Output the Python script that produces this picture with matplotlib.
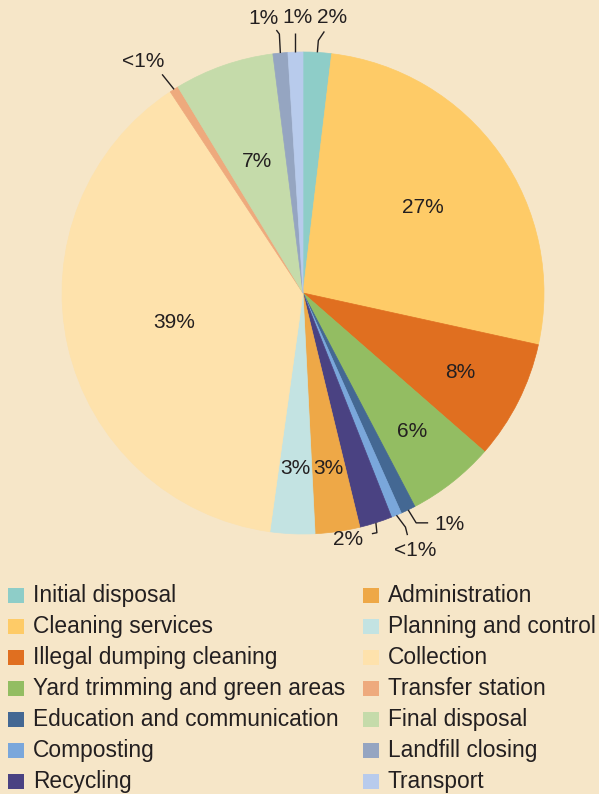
import numpy as np
import matplotlib
matplotlib.use("Agg")
import matplotlib.pyplot as plt
from matplotlib.patches import Rectangle

# Share of municipal solid waste management costs by activity (%)
categories = [
    "Initial disposal", "Cleaning services", "Illegal dumping cleaning",
    "Yard trimming and green areas", "Education and communication",
    "Composting", "Recycling", "Administration", "Planning and control",
    "Collection", "Transfer station", "Final disposal", "Landfill closing",
    "Transport",
]
shares = [1.9, 26.6, 8.0, 5.9, 1.0, 0.7, 2.2, 3.0, 3.0, 38.6, 0.6, 6.7, 1.0, 1.0]
colors = [
    "#8ecdc8", "#fecb67", "#e06f20", "#93bd62", "#446893", "#7aa7db",
    "#4a4282", "#eea847", "#c3e3e2", "#fee2ac", "#eeaa7d", "#c5dbaa",
    "#95a5c1", "#b8cbec",
]

BG = "#f6e6c8"
INK = "#231f20"
FONT = "Liberation Sans"
FS_PIE = 15
FS_LEG = 16.4

W, H = 599, 794
CX, CY, R = 303, H - 293, 241

fig = plt.figure(figsize=(W / 100, H / 100), dpi=100)
fig.patch.set_facecolor(BG)
ax = fig.add_axes([0, 0, 1, 1])
ax.set_facecolor(BG)

wedges, _ = ax.pie(shares, colors=colors, startangle=90, counterclock=False,
                   center=(CX, CY), radius=R,
                   wedgeprops=dict(linewidth=0.5))
for w in wedges:
    w.set_edgecolor(w.get_facecolor())

ax.set_xlim(0, W)
ax.set_ylim(0, H)
ax.set_aspect("equal")
ax.axis("off")


def label_text(v):
    return "<1%" if v < 1 else f"{round(v)}%"


def mid_angle(w):
    return np.deg2rad((w.theta1 + w.theta2) / 2)


# Labels placed inside the wedge: radius as a fraction of the pie radius
inside = {1: 0.61, 2: 0.73, 3: 0.73, 7: 0.735, 8: 0.727, 9: 0.55, 11: 0.58}
for i, rf in inside.items():
    a = mid_angle(wedges[i])
    ax.text(CX + rf * R * np.cos(a), CY + rf * R * np.sin(a), label_text(shares[i]),
            ha="center", va="center", fontsize=FS_PIE, color=INK, family=FONT)

# Labels outside with leader lines: offsets (px) from the wedge's rim point
outside = {
    0: ([(1, 12), (7, 21)], (15, 35)),
    13: ([(0, 19)], (2, 35)),
    12: ([(-1, 19), (-4, 23)], (-17, 35)),
    10: ([(-12, 15)], (-31, 28)),
    4: ([(8, -13), (20, -13)], (41, -15)),
    5: ([(9, -12), (11, -20)], (19, -35)),
    6: ([(1, -10), (-4, -11)], (-28, -17)),
}
for i, (pts, (tx, ty)) in outside.items():
    a = mid_angle(wedges[i])
    ex, ey = CX + R * np.cos(a), CY + R * np.sin(a)
    xs = [ex] + [ex + dx for dx, dy in pts]
    ys = [ey] + [ey + dy for dx, dy in pts]
    ax.plot(xs, ys, color=INK, lw=1.0, solid_capstyle="butt")
    ax.text(ex + tx, ey + ty, label_text(shares[i]), ha="center", va="center",
            fontsize=FS_PIE, color=INK, family=FONT)

# Two-column legend below the pie
rows = 7
col_x = [8, 363]
row_y0, row_step = H - 595, 31
for k, (name, c) in enumerate(zip(categories, colors)):
    col, row = divmod(k, rows)
    yc = row_y0 - row * row_step
    ax.add_patch(Rectangle((col_x[col], yc - 7.5), 16, 15, facecolor=c,
                           edgecolor="none"))
    ax.text(col_x[col] + 25, yc - 7, name, ha="left", va="baseline",
            fontsize=FS_LEG, color=INK, family=FONT)

fig.savefig("out.png", dpi=100, facecolor=BG)
